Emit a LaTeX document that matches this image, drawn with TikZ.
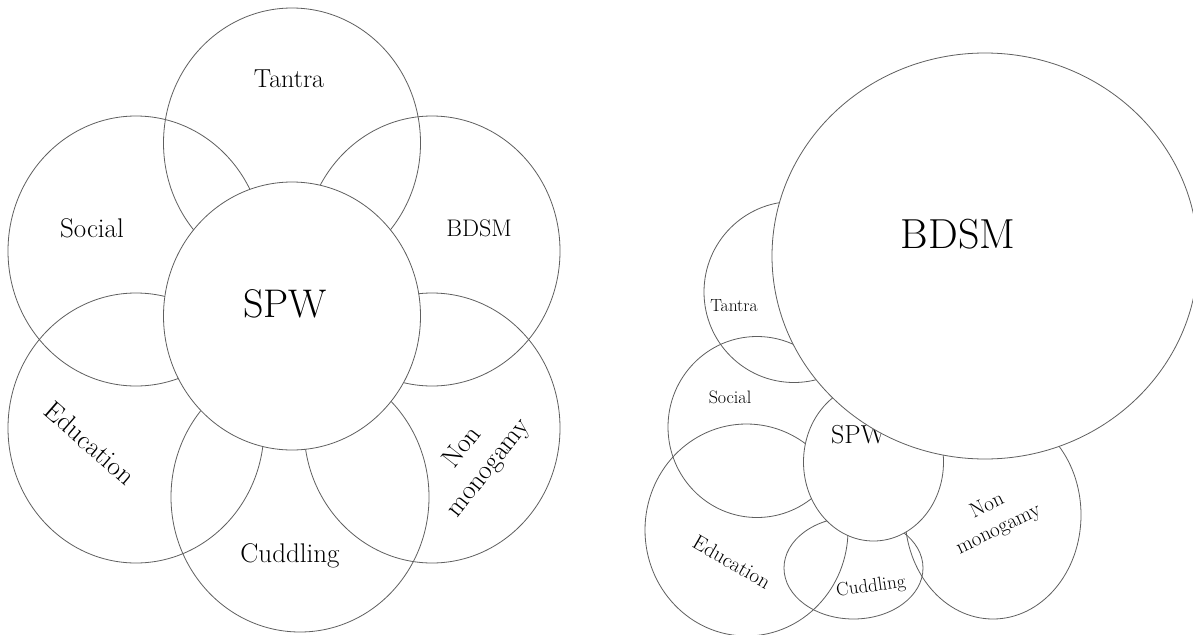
\documentclass[tikz,border=0pt]{standalone}
\usetikzlibrary{shapes.geometric}
\definecolor{ringgray}{RGB}{95,95,95}
\tikzset{
  ring/.style={ellipse, draw=ringgray, line width=0.8pt, inner sep=0pt},
  solidring/.style={ring, fill=white},
  lbl/.style 2 args={text=black, inner sep=0pt, align=center, font=\fontsize{#1}{#2}\selectfont},
}
\begin{document}
\begin{tikzpicture}[x=1pt,y=-1pt]
\useasboundingbox (0,0) rectangle (1193,634);
\clip (0,0) rectangle (1193,634);
\fill[white] (0,0) rectangle (1193,634);
% ---------- left diagram ----------
\node[ring, minimum width=257pt, minimum height=270pt] (lTantra) at (292,143) {};
\node[ring, minimum width=256pt, minimum height=270pt] (lSocial) at (136,251) {};
\node[ring, minimum width=256pt, minimum height=270pt] (lBDSM) at (432,251) {};
\node[ring, minimum width=256pt, minimum height=270pt] (lEdu) at (136,428) {};
\node[ring, minimum width=256pt, minimum height=270pt] (lNon) at (432,428) {};
\node[ring, minimum width=258pt, minimum height=270pt] (lCud) at (300,497) {};
\node[solidring, minimum width=257pt, minimum height=268pt] (lSPW) at (292,316) {};
\node[lbl={26}{31}] (tTantra) at (289,79) {Tantra};
\node[lbl={27}{32}] (tSocial) at (92,228) {Social};
\node[lbl={24}{29}] (tBDSM) at (479,228) {BDSM};
\node[lbl={40}{48}] (tSPW) at (285,304) {SPW};
\node[lbl={27}{32}, rotate=-41] (tEdu) at (90,443) {Education};
\node[lbl={27}{33}, rotate=52] (tNon) at (476,458) {Non\\monogamy};
\node[lbl={27}{32}] (tCud) at (290,556) {Cuddling};
% ---------- right diagram ----------
\node[ring, minimum width=180pt, minimum height=181pt] (rTantra) at (794,292) {};
\node[ring, minimum width=178pt, minimum height=181pt] (rSocial) at (757,427) {};
\node[ring, minimum width=203pt, minimum height=212pt] (rEdu) at (746.5,530) {};
\node[ring, minimum width=139pt, minimum height=102pt] (rCud) at (853.5,568) {};
\node[ring, minimum width=176pt, minimum height=208pt] (rNon) at (993,515) {};
\node[solidring, minimum width=140pt, minimum height=158pt] (rSPW) at (873.5,462) {};
\node[lbl={26}{31}, anchor=west] (uSPW) at (831,435) {SPW};
\node[solidring, minimum width=426pt, minimum height=406pt] (rBDSM) at (985,256) {};
\node[lbl={42}{50}] (uBDSM) at (958,234) {BDSM};
\node[lbl={17.5}{21}] (uTantra) at (734,306) {Tantra};
\node[lbl={18}{22}] (uSocial) at (730,397) {Social};
\node[lbl={21}{25}, rotate=-30] (uEdu) at (732,562) {Education};
\node[lbl={19}{23}, rotate=8] (uCud) at (871,587) {Cuddling};
\node[lbl={21}{26}, rotate=26] (uNon) at (993,518) {Non\\monogamy};
\end{tikzpicture}
\end{document}
